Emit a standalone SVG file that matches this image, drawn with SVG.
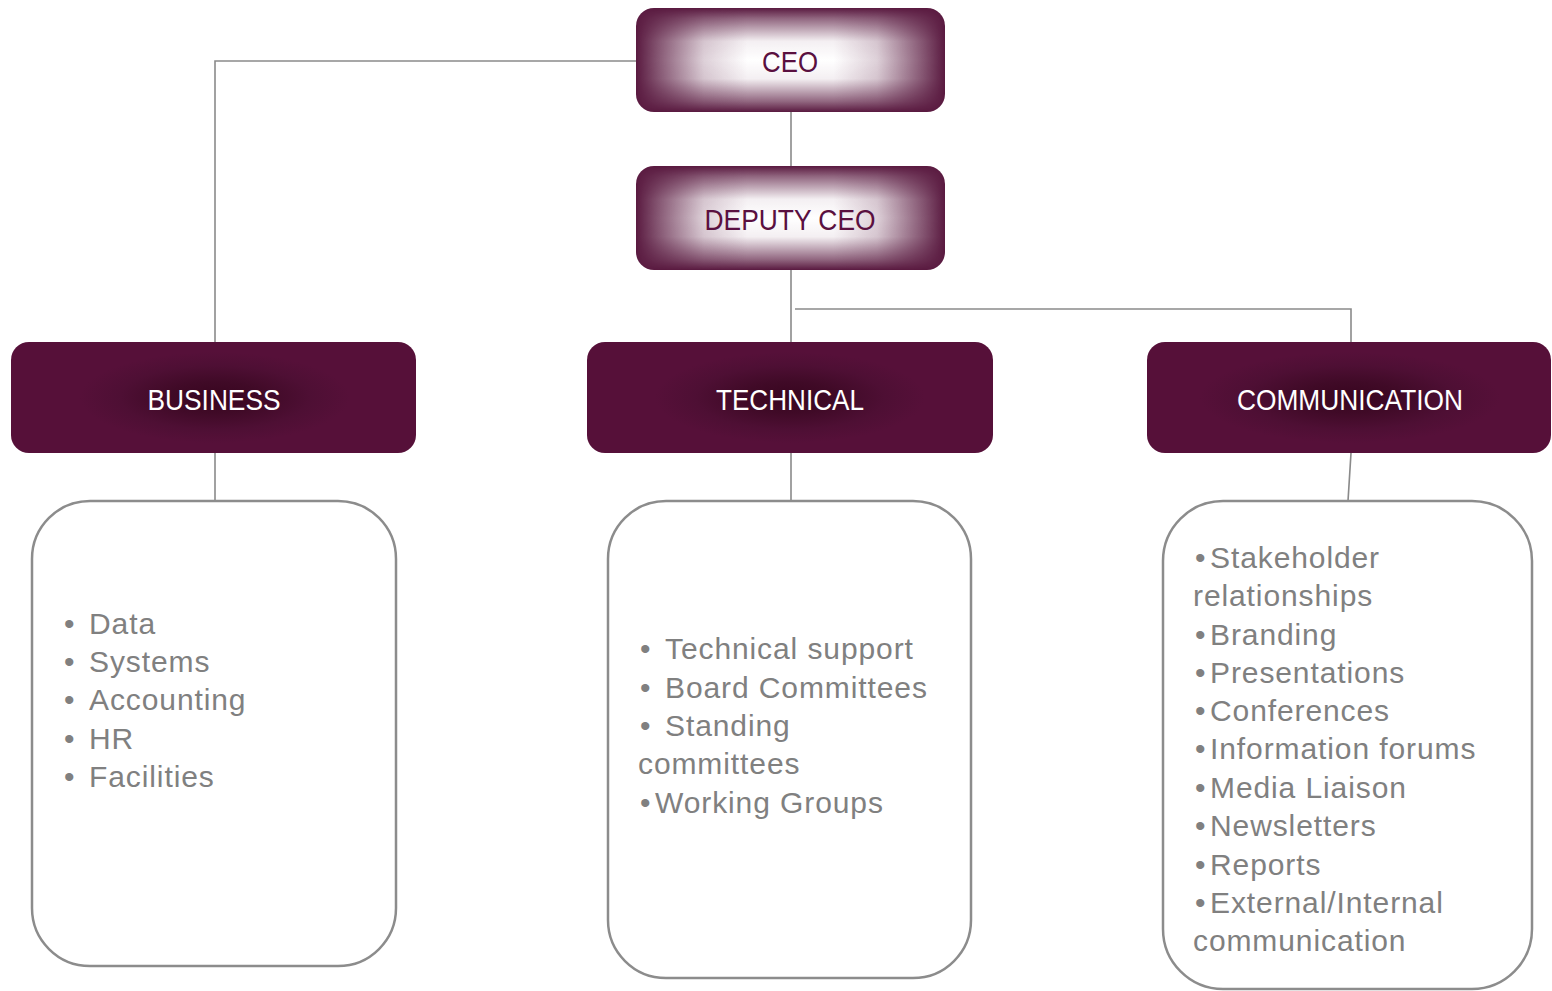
<svg xmlns="http://www.w3.org/2000/svg" width="1552" height="991" viewBox="0 0 1552 991">
<style>
.conn{fill:none;stroke:#8a8a8a;stroke-width:1.6}
.list{fill:none;stroke:#8c8c8c;stroke-width:2.5}
.top{font-family:"Liberation Sans Narrow","Liberation Sans",Arial,sans-serif;font-size:30px;fill:#5a1040;text-anchor:middle}
.hdr{font-family:"Liberation Sans Narrow","Liberation Sans",Arial,sans-serif;font-size:30px;fill:#ffffff;text-anchor:middle}
.item{font-family:"Liberation Sans",Arial,sans-serif;font-size:30px;fill:#808080;letter-spacing:0.9px}
</style>
<defs>
<linearGradient id="gh" x1="0" y1="0" x2="1" y2="0">
<stop offset="0" stop-color="#000"/>
<stop offset="0.07" stop-color="#444"/>
<stop offset="0.22" stop-color="#ccc"/>
<stop offset="0.36" stop-color="#fff"/>
<stop offset="0.64" stop-color="#fff"/>
<stop offset="0.78" stop-color="#ccc"/>
<stop offset="0.93" stop-color="#444"/>
<stop offset="1" stop-color="#000"/>
</linearGradient>
<linearGradient id="gv" x1="0" y1="0" x2="0" y2="1">
<stop offset="0" stop-color="#000"/>
<stop offset="0.1" stop-color="#555"/>
<stop offset="0.32" stop-color="#eee"/>
<stop offset="0.5" stop-color="#fff"/>
<stop offset="0.68" stop-color="#eee"/>
<stop offset="0.9" stop-color="#555"/>
<stop offset="1" stop-color="#000"/>
</linearGradient>
<mask id="mh" maskContentUnits="objectBoundingBox"><rect x="0" y="0" width="1" height="1" fill="url(#gh)"/></mask>
<mask id="mv" maskContentUnits="objectBoundingBox"><rect x="0" y="0" width="1" height="1" fill="url(#gv)"/></mask>
<radialGradient id="dark" cx="0.5" cy="0.5" r="0.5">
<stop offset="0" stop-color="#38051f"/>
<stop offset="0.35" stop-color="#400a27"/>
<stop offset="0.7" stop-color="#4e0f34"/>
<stop offset="1" stop-color="#561039"/>
</radialGradient>
</defs>

<g id="connectors">
<polyline class="conn" points="636,61 215,61 215,342"/>
<line class="conn" x1="791" y1="112" x2="791" y2="166"/>
<line class="conn" x1="791" y1="270" x2="791" y2="342"/>
<polyline class="conn" points="795,309 1351,309 1351,342"/>
<line class="conn" x1="215" y1="453" x2="215" y2="501"/>
<line class="conn" x1="791" y1="453" x2="791" y2="501"/>
<line class="conn" x1="1351" y1="453" x2="1348" y2="501"/>
</g>

<g id="ceo">
<rect x="636" y="8" width="309" height="104" rx="18" fill="#5a1a40"/>
<g mask="url(#mh)"><rect x="636" y="8" width="309" height="104" fill="#ffffff" mask="url(#mv)"/></g>
<text class="top" x="790" y="72" textLength="56" lengthAdjust="spacingAndGlyphs">CEO</text>
</g>

<g id="deputy">
<rect x="636" y="166" width="309" height="104" rx="18" fill="#5a1a40"/>
<g mask="url(#mh)"><rect x="636" y="166" width="309" height="104" fill="#ffffff" mask="url(#mv)"/></g>
<text class="top" x="790" y="230" textLength="171" lengthAdjust="spacingAndGlyphs">DEPUTY CEO</text>
</g>

<g id="business">
<rect x="11" y="342" width="405" height="111" rx="18" fill="#561039"/>
<rect x="80" y="352" width="270" height="91" rx="30" fill="url(#dark)"/>
<text class="hdr" x="214" y="410" textLength="133" lengthAdjust="spacingAndGlyphs">BUSINESS</text>
</g>

<g id="technical">
<rect x="587" y="342" width="406" height="111" rx="18" fill="#561039"/>
<rect x="655" y="352" width="270" height="91" rx="30" fill="url(#dark)"/>
<text class="hdr" x="790" y="410" textLength="148" lengthAdjust="spacingAndGlyphs">TECHNICAL</text>
</g>

<g id="communication">
<rect x="1147" y="342" width="404" height="111" rx="18" fill="#561039"/>
<rect x="1200" y="352" width="300" height="91" rx="30" fill="url(#dark)"/>
<text class="hdr" x="1350" y="410" textLength="226" lengthAdjust="spacingAndGlyphs">COMMUNICATION</text>
</g>

<g id="business-list">
<rect class="list" x="32" y="501" width="364" height="465" rx="58"/>
<text class="item">
<tspan x="64" y="634">•</tspan><tspan x="89" y="634">Data</tspan>
<tspan x="64" y="672">•</tspan><tspan x="89" y="672">Systems</tspan>
<tspan x="64" y="710">•</tspan><tspan x="89" y="710">Accounting</tspan>
<tspan x="64" y="749">•</tspan><tspan x="89" y="749">HR</tspan>
<tspan x="64" y="787">•</tspan><tspan x="89" y="787">Facilities</tspan>
</text>
</g>

<g id="technical-list">
<rect class="list" x="608" y="501" width="363" height="477" rx="58"/>
<text class="item">
<tspan x="640" y="659">•</tspan><tspan x="665" y="659">Technical support</tspan>
<tspan x="640" y="698">•</tspan><tspan x="665" y="698">Board Committees</tspan>
<tspan x="640" y="736">•</tspan><tspan x="665" y="736">Standing</tspan>
<tspan x="638" y="774">committees</tspan>
<tspan x="640" y="813">•</tspan><tspan x="655" y="813">Working Groups</tspan>
</text>
</g>

<g id="communication-list">
<rect class="list" x="1163" y="501" width="369" height="488" rx="60"/>
<text class="item">
<tspan x="1195" y="568">•</tspan><tspan x="1210" y="568">Stakeholder</tspan>
<tspan x="1193" y="606">relationships</tspan>
<tspan x="1195" y="645">•</tspan><tspan x="1210" y="645">Branding</tspan>
<tspan x="1195" y="683">•</tspan><tspan x="1210" y="683">Presentations</tspan>
<tspan x="1195" y="721">•</tspan><tspan x="1210" y="721">Conferences</tspan>
<tspan x="1195" y="759">•</tspan><tspan x="1210" y="759">Information forums</tspan>
<tspan x="1195" y="798">•</tspan><tspan x="1210" y="798">Media Liaison</tspan>
<tspan x="1195" y="836">•</tspan><tspan x="1210" y="836">Newsletters</tspan>
<tspan x="1195" y="875">•</tspan><tspan x="1210" y="875">Reports</tspan>
<tspan x="1195" y="913">•</tspan><tspan x="1210" y="913">External/Internal</tspan>
<tspan x="1193" y="951">communication</tspan>
</text>
</g>
</svg>
